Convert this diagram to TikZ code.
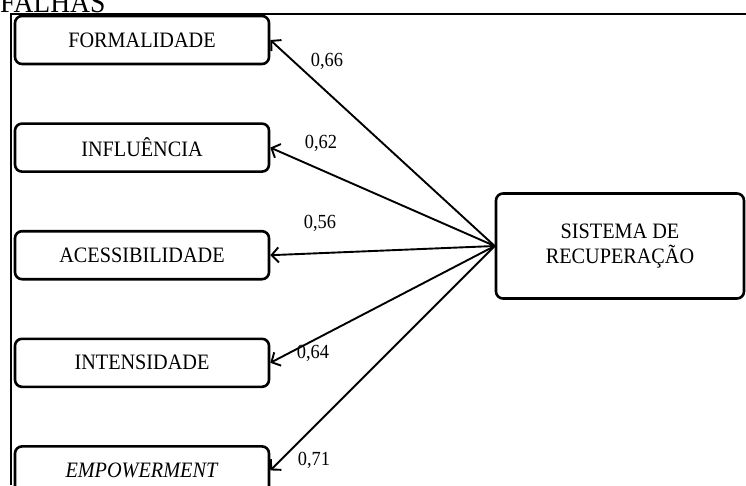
\documentclass[tikz,border=0pt]{standalone}
\usepackage{fontspec}
\setmainfont[FakeStretch=0.92]{Liberation Serif}
\usetikzlibrary{arrows.meta, positioning}

\begin{document}
\begin{tikzpicture}[x=1pt, y=-1pt,
        % 1. ESTILOS
        caixa/.style={
            draw, line width=2.6pt, rounded corners=7pt, align=center,
            minimum width=254pt, minimum height=48pt, inner sep=0pt,
            font=\fontsize{22}{26}\selectfont
        },
        % bloco do construto
        construto/.style={caixa, minimum width=248pt, minimum height=105pt,
            font=\fontsize{22}{25}\selectfont},
        % cargas fatoriais
        carga/.style={font=\fontsize{20}{22}\selectfont, inner sep=0pt},
        % setas
        seta/.style={line width=1.9pt, -{Straight Barb[length=7pt, width=15pt, line width=1.9pt]}}
    ]
        \useasboundingbox (0,0) rectangle (746,485);

        % moldura e titulo cortado
        \node[anchor=base west, inner sep=0pt, font=\fontsize{30}{32}\selectfont] (falhas) at (0,12) {FALHAS};
        \draw[line width=2pt] (11,485) -- (11,14) -- (746,14);

        % 2. BLOCOS
        \node[caixa] (formalidade) at (142,40) {FORMALIDADE};
        \node[caixa, below=57pt of formalidade] (influencia) {INFLUÊNCIA};
        \node[caixa, below=57pt of influencia] (acessibilidade) {ACESSIBILIDADE};
        \node[caixa, below=57pt of acessibilidade] (intensidade) {INTENSIDADE};
        \node[caixa, below=57pt of intensidade] (empowerment) {\textit{EMPOWERMENT}};

        \node[construto] (sistema) at (620,246) {SISTEMA DE \\ RECUPERAÇÃO};

        % 3. SETAS
        \draw[seta] (sistema.west) -- (formalidade.east);
        \draw[seta] (sistema.west) -- (influencia.east);
        \draw[seta] (sistema.west) -- (acessibilidade.east);
        \draw[seta] (sistema.west) -- (intensidade.east);
        \draw[seta] (sistema.west) -- (empowerment.east);

        % cargas
        \node[carga] (c66) at (327,61) {0,66};
        \node[carga] (c62) at (321,143) {0,62};
        \node[carga] (c56) at (320,223) {0,56};
        \node[carga] (c64) at (313,353) {0,64};
        \node[carga] (c71) at (314,460) {0,71};

    \end{tikzpicture}
\end{document}
